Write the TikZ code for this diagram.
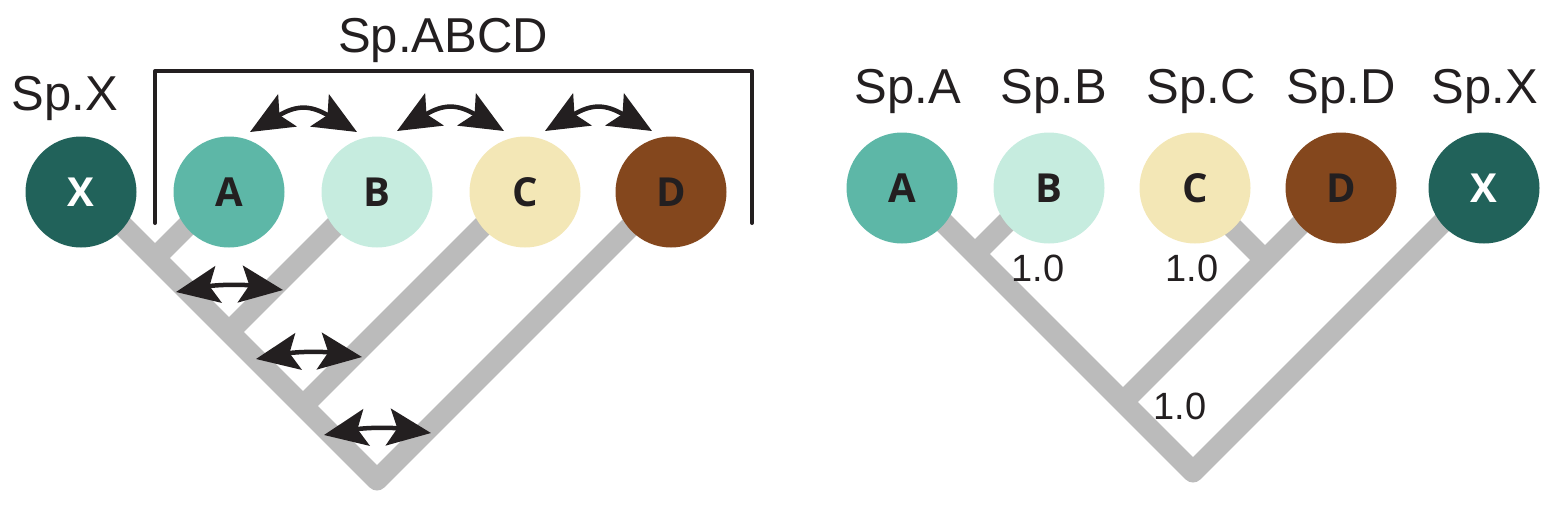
\documentclass[tikz,border=0pt]{standalone}
\usepackage{fontspec}
\setmainfont{Liberation Sans}
\newfontfamily\cfont{Open Sans}
\usetikzlibrary{arrows.meta}
\definecolor{ink}{HTML}{231F20}
\definecolor{branch}{HTML}{BBBBBB}
\definecolor{cX}{HTML}{21625A}
\definecolor{cA}{HTML}{5DB7A7}
\definecolor{cB}{HTML}{C6ECDF}
\definecolor{cC}{HTML}{F3E7B6}
\definecolor{cD}{HTML}{84471D}
\tikzset{
  tree/.style={draw=branch, line width=21pt, line join=round},
  sp/.style={circle, inner sep=0pt, minimum size=111pt, font=\cfont\bfseries\fontsize{40}{40}\selectfont, text=ink},
  lab/.style={anchor=base, inner sep=0pt, text=ink, font=\fontsize{49}{55}\selectfont},
  num/.style={inner sep=0pt, text=ink, font=\fontsize{38}{42}\selectfont},
  tip/.tip={Stealth[length=43pt,width=37pt,inset=9pt]},
  dbl/.style={draw=ink, line width=4.5pt, {tip}-{tip}},
  brk/.style={draw=ink, line width=4pt, line cap=round, line join=round}
}
\begin{document}
\begin{tikzpicture}[x=1pt,y=-1pt]
\useasboundingbox (0,0) rectangle (1550,515);
% ---------- left tree ----------
\coordinate (LR) at (377,480);
\coordinate (LJA) at (155,258);
\coordinate (LJB) at (229,332);
\coordinate (LJC) at (303,406);
\coordinate (LXe) at (81,184);
\coordinate (LAe) at (229,184);
\coordinate (LBe) at (377,184);
\coordinate (LCe) at (525,184);
\coordinate (LDe) at (673,184);
\draw[tree] (LXe) -- (LR) -- (LDe);
\draw[tree] (LJA) -- (LAe);
\draw[tree] (LJB) -- (LBe);
\draw[tree] (LJC) -- (LCe);
\node[sp, fill=cX, text=white] (lX) at (81,192) {X};
\node[sp, fill=cA] (lA) at (229,192) {A};
\node[sp, fill=cB] (lB) at (377,192) {B};
\node[sp, fill=cC] (lC) at (525,192) {C};
\node[sp, fill=cD] (lD) at (671,192) {D};
\node[lab] (lspX) at (65,110) {Sp.X};
\node[lab] (lspABCD) at (443,52) {Sp.ABCD};
\draw[brk] (155,223) -- (155,71) -- (752,71) -- (752,223);
% top arrows
\coordinate (t1a) at (250,132); \coordinate (t1b) at (357,132);
\coordinate (t2a) at (397,131); \coordinate (t2b) at (504,131);
\coordinate (t3a) at (545,131); \coordinate (t3b) at (652,131);
\draw[dbl] (t1a) to[bend left=30, looseness=1.3] (t1b);
\draw[dbl] (t2a) to[bend left=30, looseness=1.3] (t2b);
\draw[dbl] (t3a) to[bend left=30, looseness=1.3] (t3b);
% lower arrows
\coordinate (b1a) at (176,292); \coordinate (b1b) at (283,290);
\coordinate (b2a) at (256,359); \coordinate (b2b) at (362,357);
\coordinate (b3a) at (324,435); \coordinate (b3b) at (431,433);
\draw[dbl] (b1a) to[bend left=9] (b1b);
\draw[dbl] (b2a) to[bend left=9] (b2b);
\draw[dbl] (b3a) to[bend left=9] (b3b);
% ---------- right tree ----------
\coordinate (RR) at (1193,472);
\coordinate (RJAB) at (975,254);
\coordinate (RJM) at (1123,402);
\coordinate (RJCD) at (1265,260);
\coordinate (RAe) at (903,182);
\coordinate (RBe) at (1049,180);
\coordinate (RCe) at (1195,190);
\coordinate (RDe) at (1341,184);
\coordinate (RXe) at (1483,182);
\draw[tree] (RAe) -- (RR) -- (RXe);
\draw[tree] (RJAB) -- (RBe);
\draw[tree] (RJM) -- (RDe);
\draw[tree] (RJCD) -- (RCe);
\node[sp, fill=cA] (rA) at (902,188) {A};
\node[sp, fill=cB] (rB) at (1049,188) {B};
\node[sp, fill=cC] (rC) at (1195,188) {C};
\node[sp, fill=cD] (rD) at (1341,188) {D};
\node[sp, fill=cX, text=white] (rX) at (1484,188) {X};
\node[lab] (rspA) at (908,103) {Sp.A};
\node[lab] (rspB) at (1054,103) {Sp.B};
\node[lab] (rspC) at (1201,103) {Sp.C};
\node[lab] (rspD) at (1341,103) {Sp.D};
\node[lab] (rspX) at (1485,103) {Sp.X};
\node[num] (n1) at (1038,268) {1.0};
\node[num] (n2) at (1192,268) {1.0};
\node[num] (n3) at (1180,406) {1.0};
\end{tikzpicture}
\end{document}
